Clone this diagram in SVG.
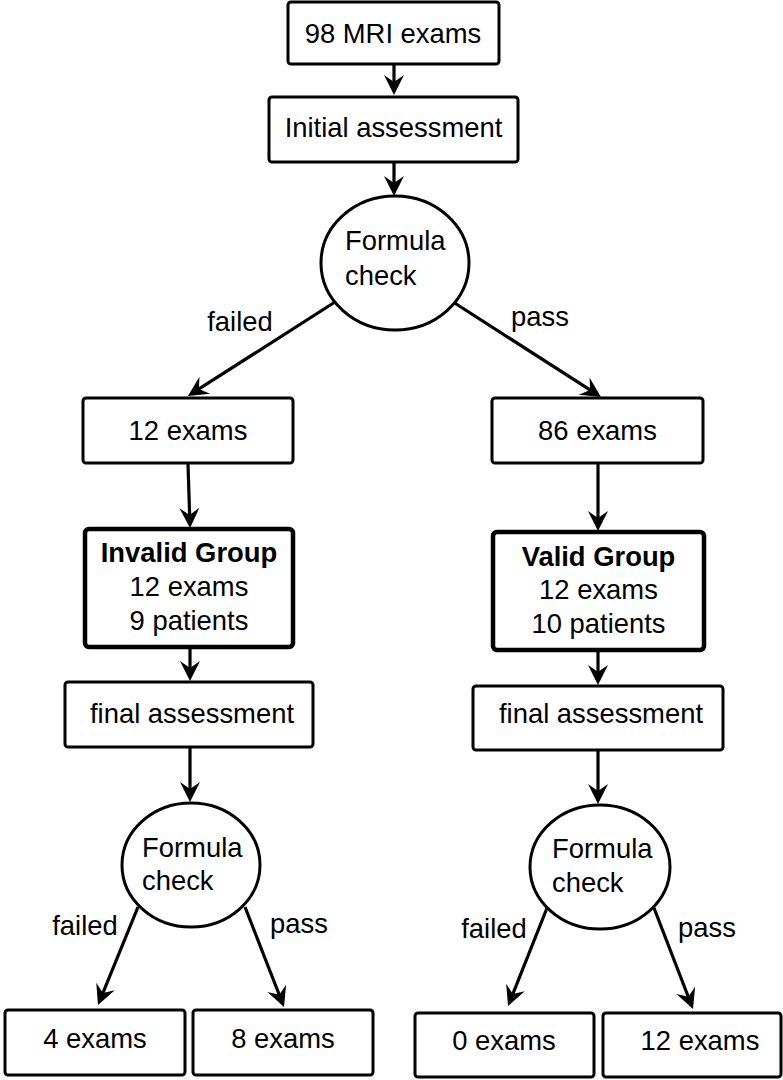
<svg xmlns="http://www.w3.org/2000/svg" width="783" height="1080" viewBox="0 0 783 1080">
<style>
.box{fill:#fff;stroke:#000;stroke-width:3}
.grp{fill:#fff;stroke:#000;stroke-width:4.5}
.circ{fill:#fff;stroke:#000;stroke-width:3}
text{font-family:"Liberation Sans",Arial,sans-serif;font-size:27.4px;fill:#000}
.c{text-anchor:middle}
.b{font-weight:bold}
.edge{stroke:#000;stroke-width:3.2;fill:none;marker-end:url(#ah)}
</style>
<defs>
<marker id="ah" markerUnits="userSpaceOnUse" viewBox="-14 -12 24 24" markerWidth="24" markerHeight="24" refX="0" refY="0" orient="auto">
<path d="M8,0 L-12,-10 L-5,0 L-12,10 Z" fill="#000"/>
</marker>
</defs>
<rect width="783" height="1080" fill="#fff"/>
<g id="connectors">
<line class="edge" x1="394" y1="64" x2="394" y2="87"/>
<line class="edge" x1="394" y1="162" x2="394" y2="188"/>
<line class="edge" x1="335" y1="302" x2="194.7" y2="391.7"/>
<line class="edge" x1="450" y1="300" x2="594.3" y2="392.7"/>
<line class="edge" x1="188" y1="464" x2="189.8" y2="520"/>
<line class="edge" x1="598" y1="464" x2="598" y2="523"/>
<line class="edge" x1="190" y1="648" x2="190" y2="673"/>
<line class="edge" x1="598" y1="651" x2="598" y2="677"/>
<line class="edge" x1="190" y1="748" x2="190" y2="794"/>
<line class="edge" x1="598" y1="751" x2="598" y2="796"/>
<line class="edge" x1="138" y1="907" x2="101" y2="997.6"/>
<line class="edge" x1="245" y1="907" x2="281.1" y2="999.5"/>
<line class="edge" x1="547" y1="908" x2="511" y2="998.6"/>
<line class="edge" x1="654" y1="908" x2="690.1" y2="1001.5"/>
<text x="240" y="331" class="c">failed</text>
<text x="540" y="326" class="c">pass</text>
<text x="85" y="935" class="c">failed</text>
<text x="299" y="933" class="c">pass</text>
<text x="494" y="938" class="c">failed</text>
<text x="707" y="937" class="c">pass</text>
</g>
<g id="n1"><rect class="box" x="288" y="2" width="211" height="62" rx="3"/><text x="393" y="43" class="c">98 MRI exams</text></g>
<g id="n2"><rect class="box" x="269" y="97" width="249" height="65" rx="3"/><text x="393.5" y="137" class="c">Initial assessment</text></g>
<g id="n3"><ellipse class="circ" cx="395" cy="263" rx="74" ry="67"/><text x="345" y="250">Formula</text><text x="345" y="285">check</text></g>
<g id="n4"><rect class="box" x="83" y="398" width="210" height="65" rx="3"/><text x="188" y="440" class="c">12 exams</text></g>
<g id="n5"><rect class="box" x="492" y="398" width="211" height="65" rx="3"/><text x="597.5" y="440" class="c">86 exams</text></g>
<g id="n6"><rect class="grp" x="85" y="529" width="208" height="118" rx="4"/><text x="189" y="562" class="c b">Invalid Group</text><text x="189" y="596" class="c">12 exams</text><text x="189" y="630" class="c">9 patients</text></g>
<g id="n7"><rect class="grp" x="493" y="532" width="211" height="118" rx="4"/><text x="598.5" y="566" class="c b">Valid Group</text><text x="598.5" y="599" class="c">12 exams</text><text x="598.5" y="633" class="c">10 patients</text></g>
<g id="n8"><rect class="box" x="65" y="682" width="248" height="65" rx="3"/><text x="192" y="723" class="c">final assessment</text></g>
<g id="n9"><rect class="box" x="473" y="686" width="250" height="64" rx="3"/><text x="601" y="723" class="c">final assessment</text></g>
<g id="n10"><ellipse class="circ" cx="191" cy="865" rx="69" ry="62"/><text x="142" y="857">Formula</text><text x="142" y="890">check</text></g>
<g id="n11"><ellipse class="circ" cx="600" cy="867" rx="70" ry="62"/><text x="552" y="858">Formula</text><text x="552" y="892">check</text></g>
<g id="n12"><rect class="box" x="5" y="1010" width="180" height="65" rx="3"/><text x="95" y="1048" class="c">4 exams</text></g>
<g id="n13"><rect class="box" x="193" y="1010" width="180" height="65" rx="3"/><text x="283" y="1048" class="c">8 exams</text></g>
<g id="n14"><rect class="box" x="415" y="1013" width="179" height="64" rx="3"/><text x="504" y="1050" class="c">0 exams</text></g>
<g id="n15"><rect class="box" x="603" y="1013" width="178" height="64" rx="3"/><text x="700" y="1050" class="c">12 exams</text></g>
</svg>
